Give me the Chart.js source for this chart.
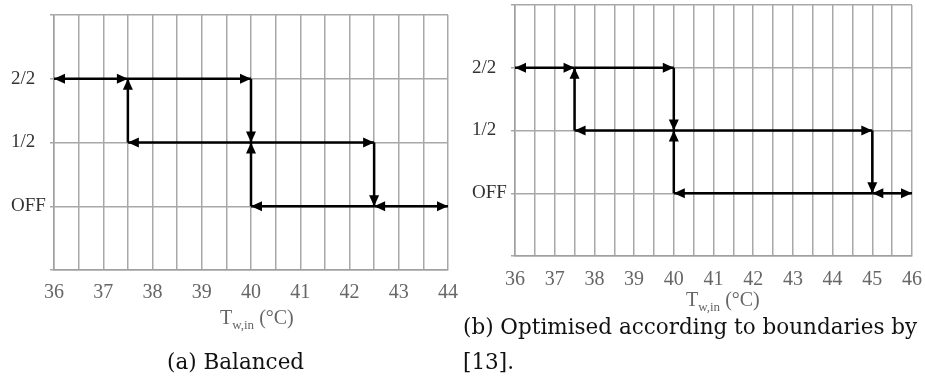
<!DOCTYPE html>
<html>
<head>
<meta charset="utf-8">
<script src="https://cdn.jsdelivr.net/npm/chart.js@4/dist/chart.umd.min.js"></script>
<style>
  body { margin: 0; background: #fff; width: 925px; height: 388px; position: relative; overflow: hidden; }
  canvas { position: absolute; }
  .axis-title { position: absolute; font-family: 'Liberation Serif', serif; font-size: 20px; color: #666; white-space: nowrap; line-height: 24px; }
  .axis-title sub { font-size: 13px; }
  .caption { position: absolute; font-family: 'DejaVu Serif', 'Liberation Serif', serif; font-size: 21.5px; color: #111; line-height: 35px; white-space: nowrap; }
</style>
</head>
<body>
<canvas id="chartA"></canvas>
<canvas id="chartB"></canvas>
<div class="axis-title" style="left:220px; top:305px;">T<sub>w,in</sub> (°C)</div>
<div class="axis-title" style="left:686px; top:287px;">T<sub>w,in</sub> (°C)</div>
<div class="caption" style="left:167px; top:344px;">(a) Balanced</div>
<div class="caption" style="left:463px; top:309px;">(b) Optimised according to boundaries by<br>[13].</div>
<script>
// stage levels on y: 1 = OFF, 2 = 1/2, 3 = 2/2
const stageLabels = { 1: 'OFF', 2: '1/2', 3: '2/2' };

// each segment: [x0, y0, x1, y1], plus which ends get an arrowhead
const balancedSegments = [
  [36, 3, 37.5, 3], [37.5, 3, 40, 3], [40, 3, 40, 2], [37.5, 2, 37.5, 3],
  [37.5, 2, 42.5, 2], [42.5, 2, 42.5, 1], [40, 1, 40, 2], [40, 1, 42.5, 1], [42.5, 1, 44, 1],
];
const balancedArrows = ['both', 'end', 'end', 'end', 'both', 'end', 'end', 'start', 'both'];

const optimisedSegments = [
  [36, 3, 37.5, 3], [37.5, 3, 40, 3], [40, 3, 40, 2], [37.5, 2, 37.5, 3],
  [37.5, 2, 45, 2], [45, 2, 45, 1], [40, 1, 40, 2], [40, 1, 45, 1], [45, 1, 46, 1],
];
const optimisedArrows = ['both', 'end', 'end', 'end', 'both', 'end', 'end', 'start', 'both'];

const arrowHeads = {
  id: 'arrowHeads',
  afterDatasetsDraw(chart) {
    const ctx = chart.ctx;
    chart.data.datasets.forEach((ds, i) => {
      const pts = chart.getDatasetMeta(i).data;
      if (pts.length < 2) return;
      const head = (tip, from) => {
        const ang = Math.atan2(tip.y - from.y, tip.x - from.x);
        const len = 11, half = 5;
        ctx.save();
        ctx.translate(tip.x, tip.y);
        ctx.rotate(ang);
        ctx.beginPath();
        ctx.moveTo(0, 0);
        ctx.lineTo(-len, -half);
        ctx.lineTo(-len, half);
        ctx.closePath();
        ctx.fillStyle = '#000';
        ctx.fill();
        ctx.restore();
      };
      if (ds.arrow === 'end' || ds.arrow === 'both') head(pts[1], pts[0]);
      if (ds.arrow === 'start' || ds.arrow === 'both') head(pts[0], pts[1]);
    });
  }
};

function makeChart(id, segments, arrows, xMax, pad) {
  const canvas = document.getElementById(id);
  canvas.style.left = pad.canvasLeft + 'px';
  canvas.style.top = '0px';
  canvas.width = pad.width;
  canvas.height = pad.height;
  return new Chart(canvas, {
    type: 'line',
    data: {
      datasets: segments.map((s, i) => ({
        data: [{ x: s[0], y: s[1] }, { x: s[2], y: s[3] }],
        borderColor: '#000',
        borderWidth: 2.5,
        pointRadius: 0,
        arrow: arrows[i],
      })),
    },
    options: {
      responsive: false,
      animation: false,
      layout: { padding: { left: pad.left, right: pad.right, top: pad.top, bottom: 0 } },
      plugins: { legend: { display: false }, tooltip: { enabled: false } },
      scales: {
        x: {
          type: 'linear',
          min: 36,
          max: xMax,
          border: { color: '#a0a0a0', width: 1.5 },
          grid: { color: '#a8a8a8', lineWidth: 1.5, drawTicks: false },
          ticks: {
            stepSize: 0.5,
            autoSkip: false,
            maxRotation: 0,
            padding: pad.tickPad,
            color: '#666',
            font: { family: 'Liberation Serif', size: 20 },
            callback: (v) => (Number.isInteger(v) ? String(v) : ''),
          },
          afterFit: (scale) => { scale.height = pad.xHeight; scale.paddingLeft = 0; scale.paddingRight = 0; },
        },
        y: {
          min: 0,
          max: 4,
          border: { color: '#a0a0a0', width: 1.5 },
          grid: { color: '#a8a8a8', lineWidth: 1.5, tickLength: 4 },
          ticks: {
            stepSize: 1,
            crossAlign: 'far',
            color: '#333',
            font: { family: 'Liberation Serif', size: 19 },
            callback: (v) => stageLabels[v] || '',
          },
          afterFit: (scale) => { scale.width = pad.yWidth; scale.paddingTop = 0; scale.paddingBottom = 0; },
        },
      },
    },
    plugins: [arrowHeads],
  });
}

makeChart('chartA', balancedSegments, balancedArrows, 44,
  { canvasLeft: 0, width: 460, height: 310, left: 11, yWidth: 43, right: 12, top: 15, xHeight: 40, tickPad: 11 });
makeChart('chartB', optimisedSegments, optimisedArrows, 46,
  { canvasLeft: 460, width: 465, height: 296, left: 12, yWidth: 43, right: 13, top: 5, xHeight: 40, tickPad: 12 });
</script>
</body>
</html>
